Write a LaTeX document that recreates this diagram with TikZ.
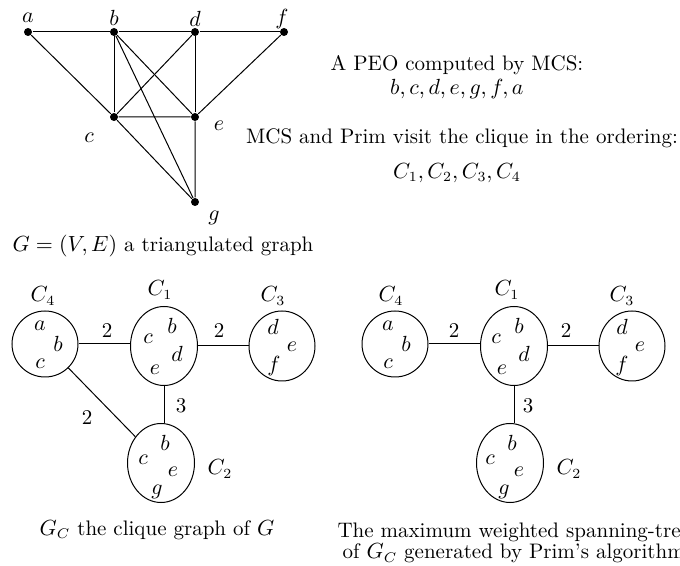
\documentclass[tikz,border=0pt]{standalone}
\usepackage{tikz}
\usetikzlibrary{shapes.geometric}
\newcommand{\picfont}{\fontsize{10.5}{12.5}\selectfont}
\tikzset{
  vtx/.style={
    circle, fill=black, inner sep=0pt, minimum size=4pt
  },
  vname/.style={
    font=\picfont, inner sep=0pt
  },
  clique/.style={
    ellipse, draw, inner sep=0pt,
    minimum width=#1
  },
  clique/.default=33pt,
  cname/.style={
    font=\picfont, inner sep=0pt
  },
  weight/.style={
    font=\picfont, inner sep=0pt
  },
  txt/.style={
    font=\picfont, align=center, inner sep=0pt
  },
}

\begin{document}
\begin{tikzpicture}[x=0.5pt, y=-0.5pt, line width=0.5pt]
  \useasboundingbox (0,0) rectangle (680,566);

  % Graph G
  \node[vtx] (a) at (28,32) {};
  \node[vtx] (b) at (114,32) {};
  \node[vtx] (d) at (195,32) {};
  \node[vtx] (f) at (284,32) {};
  \node[vtx] (c) at (114,117) {};
  \node[vtx] (e) at (195,117) {};
  \node[vtx] (g) at (195,202) {};
  \node[vname] (la) at (28,18) {$a$};
  \node[vname] (lb) at (114,18) {$b$};
  \node[vname] (ld) at (195,19) {$d$};
  \node[vname] (lf) at (282,19) {$f$};
  \node[vname] (lc) at (89,138) {$c$};
  \node[vname] (le) at (219,126) {$e$};
  \node[vname] (lg) at (214,218) {$g$};
  \draw (a) -- (b) -- (d) -- (f);
  \draw (a) -- (c) -- (e) -- (g);
  \draw (b) -- (c);
  \draw (b) -- (e);
  \draw (b) -- (g);
  \draw (c) -- (d);
  \draw (c) -- (g);
  \draw (d) -- (e);
  \draw (e) -- (f);
  \node[txt] (gcap) at (163,246) {$G=(V,E)$ a triangulated graph};

  % PEO and ordering
  \node[txt] (peo) at (457,65) {A PEO computed by MCS:};
  \node[txt] (peolist) at (457,89) {$b,c,d,e,g,f,a$};
  \node[txt] (visit) at (462,138) {MCS and Prim visit the clique in the ordering:};
  \node[txt] (order) at (457,173) {$C_1,C_2,C_3,C_4$};

  % Clique graph G_C
  \node[clique, minimum height=33pt] (l4) at (45,344) {};
  \node[clique=33.5pt, minimum height=39.5pt] (l1) at (164,346) {};
  \node[clique, minimum height=35pt] (l3) at (282,346) {};
  \node[clique=33.5pt, minimum height=39.5pt] (l2) at (161,463) {};
  \node[cname] (nl4) at (43,296) {$C_4$};
  \node[cname] (nl1) at (160,290) {$C_1$};
  \node[cname] (nl3) at (273,296) {$C_3$};
  \node[cname] (nl2) at (220,469) {$C_2$};
  \node[vname] at (40,326) {$a$};
  \node[vname] at (58,344) {$b$};
  \node[vname] at (40,364) {$c$};
  \node[vname] at (172,326) {$b$};
  \node[vname] at (148,339) {$c$};
  \node[vname] at (177,354) {$d$};
  \node[vname] at (155,370) {$e$};
  \node[vname] at (273,327) {$d$};
  \node[vname] at (292,347) {$e$};
  \node[vname] at (274,366) {$f$};
  \node[vname] at (165,443) {$b$};
  \node[vname] at (143,460) {$c$};
  \node[vname] at (173,472) {$e$};
  \node[vname] at (157,492) {$g$};
  \draw (l4.east) -- (l1.west |- l4.east);
  \draw (l1.east) -- (l3.west);
  \draw (l1.south) -- (l2.north -| l1.south);
  \draw (l4) -- (l2);
  \node[weight] (w41) at (107,331) {2};
  \node[weight] (w13) at (219,331) {2};
  \node[weight] (w12) at (181,406) {3};
  \node[weight] (w42) at (87,418) {2};
  \node[txt] (gccap) at (157,530) {$G_C$ the clique graph of $G$};

  % Spanning tree by Prim
  \node[clique, minimum height=33pt] (r4) at (395,344) {};
  \node[clique=33.5pt, minimum height=39.5pt] (r1) at (514,346) {};
  \node[clique, minimum height=35pt] (r3) at (632,346) {};
  \node[clique=33.5pt, minimum height=39.5pt] (r2) at (510,463) {};
  \node[cname] (nr4) at (391,296) {$C_4$};
  \node[cname] (nr1) at (507,290) {$C_1$};
  \node[cname] (nr3) at (622,296) {$C_3$};
  \node[cname] (nr2) at (569,469) {$C_2$};
  \node[vname] at (388,326) {$a$};
  \node[vname] at (406,344) {$b$};
  \node[vname] at (388,364) {$c$};
  \node[vname] at (519,326) {$b$};
  \node[vname] at (496,339) {$c$};
  \node[vname] at (524,354) {$d$};
  \node[vname] at (502,370) {$e$};
  \node[vname] at (622,327) {$d$};
  \node[vname] at (640,347) {$e$};
  \node[vname] at (622,366) {$f$};
  \node[vname] at (512,443) {$b$};
  \node[vname] at (490,460) {$c$};
  \node[vname] at (519,472) {$e$};
  \node[vname] at (504,492) {$g$};
  \draw (r4.east) -- (r1.west |- r4.east);
  \draw (r1.east) -- (r3.west);
  \draw (r1.south) -- (r2.north -| r1.south);
  \node[weight] (v41) at (454,331) {2};
  \node[weight] (v13) at (566,331) {2};
  \node[weight] (v12) at (528,406) {3};
  \node[txt, anchor=west, font=\fontsize{10.5}{9.5}\selectfont] (trcap) at (337,543)
    {The maximum weighted spanning-tree\\of $G_C$ generated by Prim's algorithm};
\end{tikzpicture}
\end{document}
